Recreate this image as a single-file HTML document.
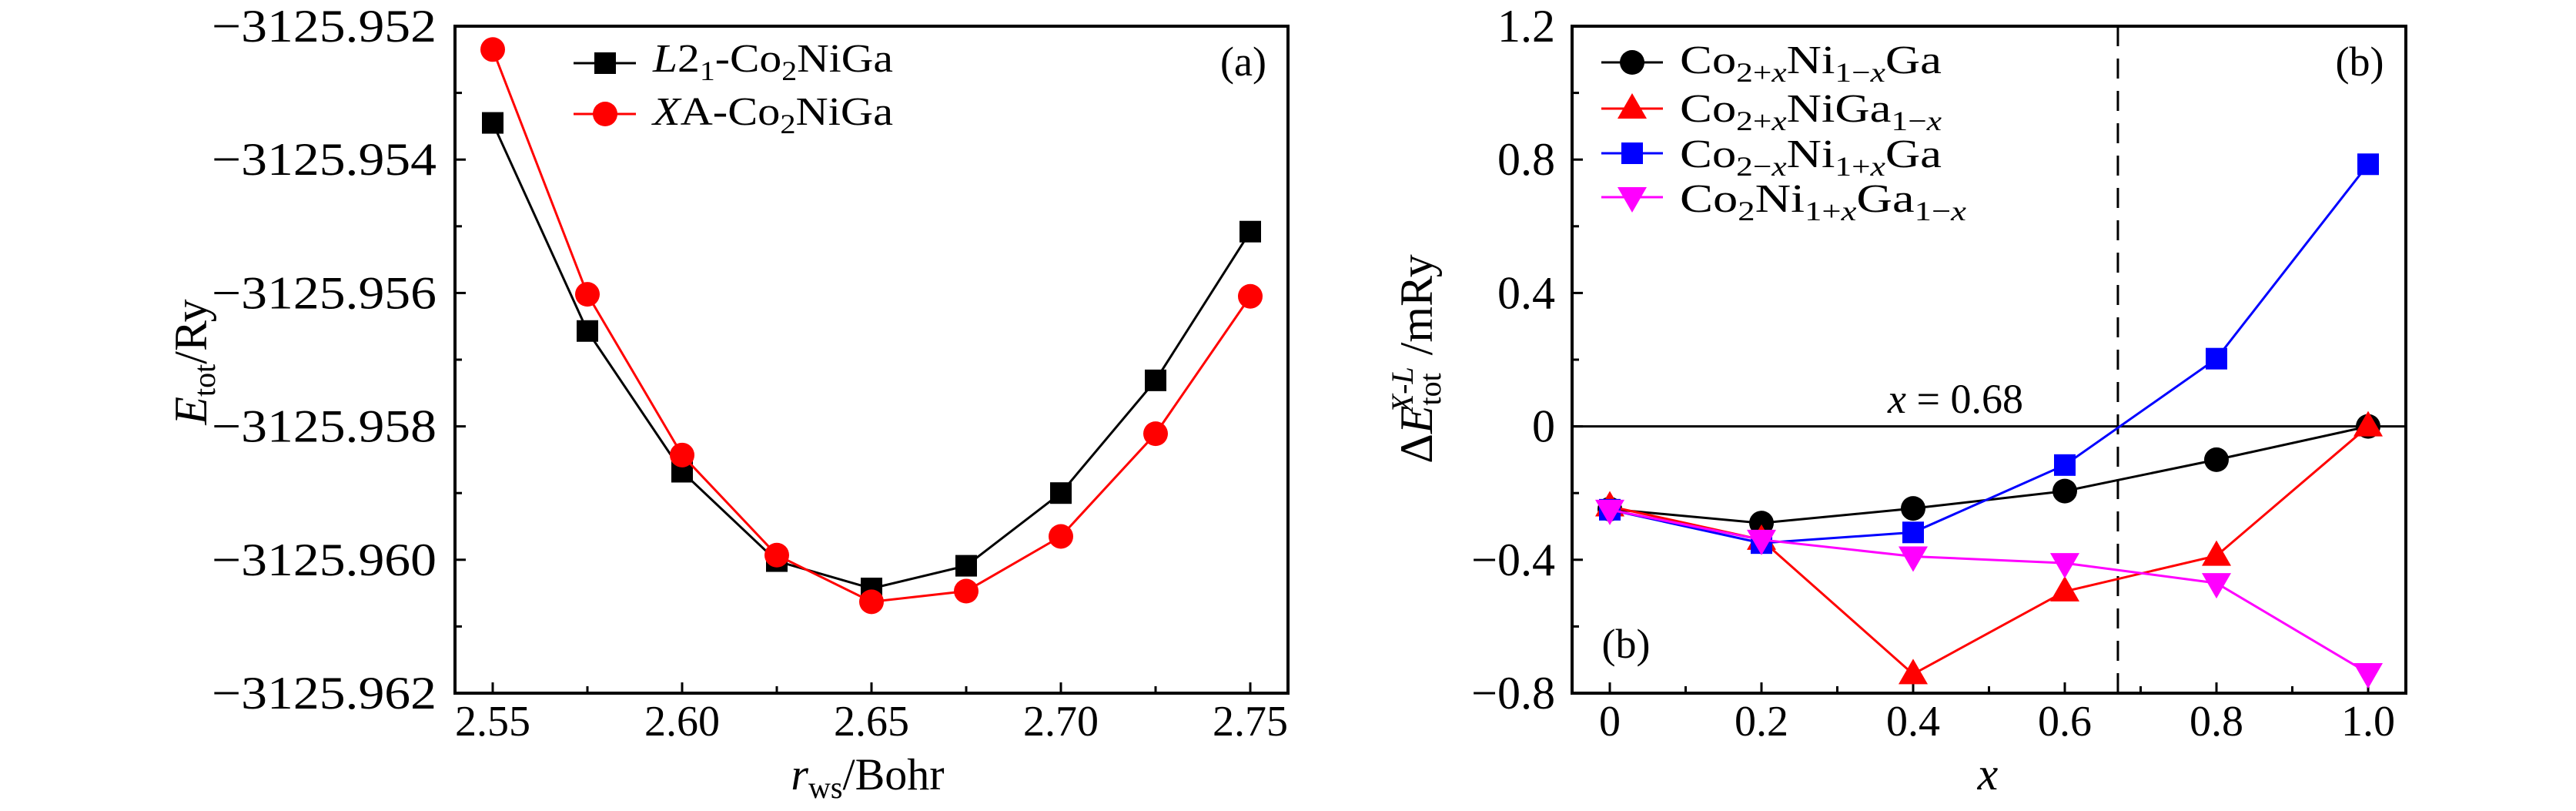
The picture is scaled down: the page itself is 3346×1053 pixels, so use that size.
<!DOCTYPE html>
<html><head><meta charset="utf-8"><style>
html,body{margin:0;padding:0;background:#fff}
svg{display:block}
svg text, svg tspan{font-family:"Liberation Serif","DejaVu Serif",serif !important}
text{fill:#000}
</style></head><body>
<svg id="chart" width="3346" height="1053" viewBox="0 0 3346 1053" xmlns="http://www.w3.org/2000/svg" font-family="'Liberation Serif', 'DejaVu Serif', serif">
<g id="pa"></g>
<g id="pb"></g>
</svg>
<script>
// Panel (a) data
const aX = [2.55,2.575,2.60,2.625,2.65,2.675,2.70,2.725,2.75];
const aL21 = [-3125.95345,-3125.95657,-3125.95868,-3125.96002,-3125.96043,-3125.96009,-3125.95900,-3125.95731,-3125.95508];
const aXA = [-3125.95235,-3125.95602,-3125.95843,-3125.95993,-3125.96063,-3125.96047,-3125.95965,-3125.95811,-3125.95605];
const aXTicks = [2.55,2.60,2.65,2.70,2.75];
const aXTickLabels = ["2.55","2.60","2.65","2.70","2.75"];
const aYTicks = [-3125.952,-3125.954,-3125.956,-3125.958,-3125.960,-3125.962];
const aYTickLabels = ["\u22123125.952","\u22123125.954","\u22123125.956","\u22123125.958","\u22123125.960","\u22123125.962"];
// Panel (b) data
const bX = [0,0.2,0.4,0.6,0.8,1.0];
const bBlack = [-0.248,-0.29,-0.246,-0.194,-0.10,0];
const bRed = [-0.24,-0.34,-0.743,-0.495,-0.388,0];
const bBlue = [-0.25,-0.35,-0.318,-0.116,0.203,0.786];
const bMag = [-0.25,-0.34,-0.39,-0.41,-0.47,-0.74];
const bXTicks = [0,0.2,0.4,0.6,0.8,1.0];
const bXTickLabels = ["0","0.2","0.4","0.6","0.8","1.0"];
const bYTicks = [1.2,0.8,0.4,0,-0.4,-0.8];
const bYTickLabels = ["1.2","0.8","0.4","0","\u22120.4","\u22120.8"];
const bCross = 0.67;

const NS="http://www.w3.org/2000/svg";
const FF="'Liberation Serif', 'DejaVu Serif', serif";
function mk(parent,tag,attrs,txt){const e=document.createElementNS(NS,tag);for(const k in attrs)e.setAttribute(k,attrs[k]);if(tag==='text')e.setAttribute('font-family',FF);if(txt!==undefined)e.textContent=txt;parent.appendChild(e);return e;}

const ax=v=>640+(v-2.55)/0.2*(1624-640);
const ay=v=>34+(-3125.952-v)/0.010*(900-34);
const bx=v=>2091+v*(3076-2091);
const by=v=>34+(1.2-v)/2.0*(900-34);

function marker(g,type,x,y,color,name){
  let e;
  if(type==='sq'){e=mk(g,'rect',{x:x-14,y:y-14,width:28,height:28,fill:color});}
  else if(type==='ci'){e=mk(g,'circle',{cx:x,cy:y,r:16,fill:color});}
  else if(type==='up'){e=mk(g,'polygon',{points:`${x},${y-20} ${x+19},${y+13} ${x-19},${y+13}`,fill:color});}
  else {e=mk(g,'polygon',{points:`${x},${y+20} ${x+19},${y-13} ${x-19},${y-13}`,fill:color});}
  
  
}
function series(g,xs,ys,fx,fy,color,type,name){
  const sg=mk(g,'g',{});
  
  
  const pts=xs.map((v,i)=>fx(v)+','+fy(ys[i])).join(' ');
  const l=mk(sg,'polyline',{points:pts,fill:'none',stroke:color,'stroke-width':3});
  
  
  xs.forEach((v,i)=>marker(sg,type,fx(v),fy(ys[i]),color,name+'-point'));
}
function frame(g,x0,y0,x1,y1){
  const r=mk(g,'rect',{x:x0,y:y0,width:x1-x0,height:y1-y0,fill:'none',stroke:'#000','stroke-width':4});
  
  
}
const S='font-size="36" dy="11"', U='dy="-11"';

// ---------- Panel A ----------
const A=document.getElementById('pa');
for(let i=0;i<=8;i++){const v=2.55+i*0.025;const x=ax(v);const len=(i%2==0)?14:9;
  const t=mk(A,'line',{x1:x,y1:900,x2:x,y2:900-len,stroke:'#000','stroke-width':3});
  
  }
for(let i=0;i<=10;i++){const v=-3125.952-i*0.001;const y=ay(v);const len=(i%2==0)?14:9;
  const t=mk(A,'line',{x1:591,y1:y,x2:591+len,y2:y,stroke:'#000','stroke-width':3});
  
  }
aXTicks.forEach((v,i)=>{const t=mk(A,'text',{x:ax(v),y:955,'font-size':56,'text-anchor':'middle'},aXTickLabels[i]);
  
  });
aYTicks.forEach((v,i)=>{const t=mk(A,'text',{x:567,y:ay(v)+20,'font-size':60,'text-anchor':'end',textLength:292,lengthAdjust:'spacingAndGlyphs'},aYTickLabels[i]);
  
  });
series(A,aX,aL21,ax,ay,'#000','sq','l21');
series(A,aX,aXA,ax,ay,'#ff0000','ci','xa');
frame(A,591,34,1673,900);
const LA=mk(A,'g',{});


mk(LA,'line',{x1:745,y1:82,x2:826,y2:82,stroke:'#000','stroke-width':3});
marker(LA,'sq',786,82,'#000','legend-marker-l21');
mk(LA,'line',{x1:745,y1:148,x2:826,y2:148,stroke:'#ff0000','stroke-width':3});
marker(LA,'ci',786,148,'#ff0000','legend-marker-xa');
const la1=mk(LA,'text',{x:848,y:93,'font-size':52,textLength:312,lengthAdjust:'spacingAndGlyphs'},'');
la1.innerHTML=`<tspan font-style="italic">L</tspan>2<tspan ${S}>1</tspan><tspan ${U}>-Co</tspan><tspan ${S}>2</tspan><tspan ${U}>NiGa</tspan>`;
const la2=mk(LA,'text',{x:848,y:162,'font-size':52,textLength:312,lengthAdjust:'spacingAndGlyphs'},'');
la2.innerHTML=`<tspan font-style="italic">X</tspan>A-Co<tspan ${S}>2</tspan><tspan ${U}>NiGa</tspan>`;
const pla=mk(A,'text',{x:1615,y:98,'font-size':54,'text-anchor':'middle'},'(a)');


const ayt=mk(A,'text',{x:0,y:0,'font-size':60,'text-anchor':'middle',transform:'translate(268,470) rotate(-90)'},'');
ayt.innerHTML='<tspan font-style="italic">E</tspan><tspan font-size="40" dy="11">tot</tspan><tspan dy="-11">/Ry</tspan>';


const axt=mk(A,'text',{x:1127,y:1025,'font-size':58,'text-anchor':'middle'},'');
axt.innerHTML='<tspan font-style="italic">r</tspan><tspan font-size="40" dy="11">ws</tspan><tspan dy="-11">/Bohr</tspan>';



// ---------- Panel B ----------
const B=document.getElementById('pb');
for(let i=0;i<=10;i++){const v=i*0.1;const x=bx(v);const len=(i%2==0)?14:9;
  const t=mk(B,'line',{x1:x,y1:900,x2:x,y2:900-len,stroke:'#000','stroke-width':3});
  
  }
for(let i=0;i<=10;i++){const v=1.2-i*0.2;const y=by(v);const len=(i%2==0)?14:9;
  const t=mk(B,'line',{x1:2042,y1:y,x2:2042+len,y2:y,stroke:'#000','stroke-width':3});
  
  }
bXTicks.forEach((v,i)=>{const t=mk(B,'text',{x:bx(v),y:955,'font-size':56,'text-anchor':'middle'},bXTickLabels[i]);
  
  });
bYTicks.forEach((v,i)=>{const t=mk(B,'text',{x:2020,y:by(v)+20,'font-size':60,'text-anchor':'end'},bYTickLabels[i]);
  
  });
const zl=mk(B,'line',{x1:2042,y1:by(0),x2:3125,y2:by(0),stroke:'#000','stroke-width':3});


const dl=mk(B,'line',{x1:bx(bCross),y1:34,x2:bx(bCross),y2:900,stroke:'#000','stroke-width':3,'stroke-dasharray':'26,16'});


series(B,bX,bBlack,bx,by,'#000','ci','co2x-ni1-x-ga');
series(B,bX,bRed,bx,by,'#ff0000','up','co2x-ni-ga1-x');
series(B,bX,bBlue,bx,by,'#0000ff','sq','co2-x-ni1x-ga');
series(B,bX,bMag,bx,by,'#ff00ff','dn','co2-ni1x-ga1-x');
frame(B,2042,34,3125,900);
const LB=mk(B,'g',{});


const lcol=['#000','#ff0000','#0000ff','#ff00ff'],ltype=['ci','up','sq','dn'],ly=[81,141,199,256],lb=[95,158,217,275],lw=[340,340,340,372];
const ltxt=[
 `Co<tspan ${S}>2+<tspan font-style="italic">x</tspan></tspan><tspan ${U}>Ni</tspan><tspan ${S}>1−<tspan font-style="italic">x</tspan></tspan><tspan ${U}>Ga</tspan>`,
 `Co<tspan ${S}>2+<tspan font-style="italic">x</tspan></tspan><tspan ${U}>NiGa</tspan><tspan ${S}>1−<tspan font-style="italic">x</tspan></tspan>`,
 `Co<tspan ${S}>2−<tspan font-style="italic">x</tspan></tspan><tspan ${U}>Ni</tspan><tspan ${S}>1+<tspan font-style="italic">x</tspan></tspan><tspan ${U}>Ga</tspan>`,
 `Co<tspan ${S}>2</tspan><tspan ${U}>Ni</tspan><tspan ${S}>1+<tspan font-style="italic">x</tspan></tspan><tspan ${U}>Ga</tspan><tspan ${S}>1−<tspan font-style="italic">x</tspan></tspan>`];
for(let i=0;i<4;i++){
  mk(LB,'line',{x1:2080,y1:ly[i],x2:2160,y2:ly[i],stroke:lcol[i],'stroke-width':3});
  marker(LB,ltype[i],2120,ly[i],lcol[i],'legend-marker');
  const t=mk(LB,'text',{x:2182,y:lb[i],'font-size':52,textLength:lw[i],lengthAdjust:'spacingAndGlyphs'},'');
  t.innerHTML=ltxt[i];
  
  
}
const plb=mk(B,'text',{x:3065,y:98,'font-size':54,'text-anchor':'middle'},'(b)');


const plb2=mk(B,'text',{x:2112,y:854,'font-size':54,'text-anchor':'middle'},'(b)');


const ann=mk(B,'text',{x:2540,y:536,'font-size':54,'text-anchor':'middle'},'');
ann.innerHTML='<tspan font-style="italic">x</tspan> = 0.68';


const byt=mk(B,'text',{x:0,y:0,'font-size':60,'text-anchor':'middle',transform:'translate(1860,466) rotate(-90)'},'');
byt.innerHTML='Δ<tspan font-style="italic">E</tspan><tspan font-size="40" dy="11">tot</tspan><tspan font-size="40" dx="-52" dy="-36" font-style="italic">X</tspan><tspan font-size="40">-</tspan><tspan font-size="40" font-style="italic">L</tspan><tspan dy="25"> /mRy</tspan>';


const bxt=mk(B,'text',{x:2582,y:1025,'font-size':60,'text-anchor':'middle','font-style':'italic'},'x');


</script>
</body></html>
